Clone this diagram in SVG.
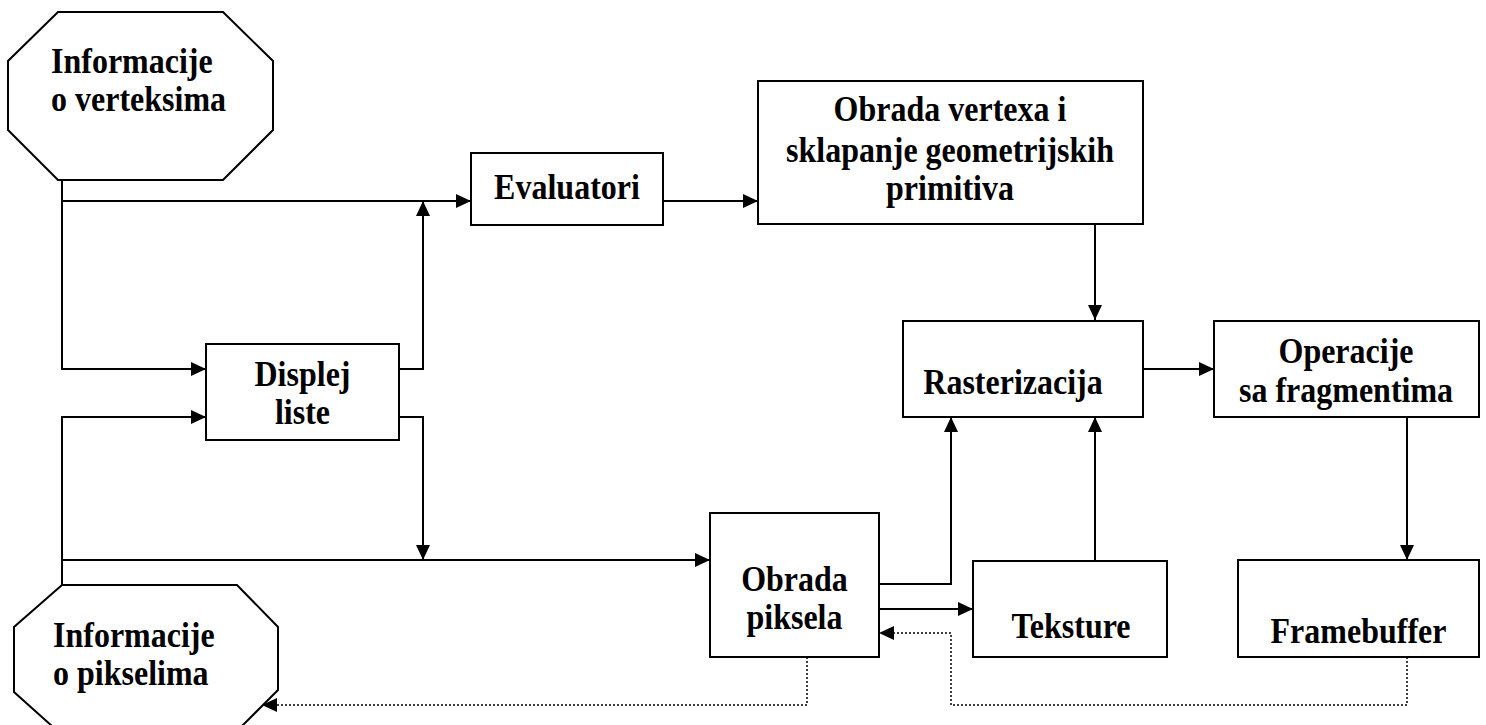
<svg xmlns="http://www.w3.org/2000/svg" width="1486" height="725" viewBox="0 0 1486 725">
<style>
.n{fill:#fff;stroke:#000;stroke-width:2}
.t{font-family:"Liberation Serif","Times New Roman",serif;font-weight:bold;font-size:32px;fill:#000}
.c{text-anchor:middle}
.l{fill:none;stroke:#000;stroke-width:2}
.d{fill:none;stroke:#000;stroke-width:1.5;stroke-dasharray:2 2}
</style>
<defs>
<marker id="a" markerUnits="userSpaceOnUse" markerWidth="16" markerHeight="14" refX="15" refY="7" orient="auto">
<path d="M0,0 L15,7 L0,14 z" fill="#000"/>
</marker>
</defs>
<rect width="1486" height="725" fill="#fff"/>
<g id="connectors">
<path class="l" d="M62,177 V369 H206" marker-end="url(#a)"/>
<path class="l" d="M62,201 H471" marker-end="url(#a)"/>
<path class="l" d="M62,585 V417 H206" marker-end="url(#a)"/>
<path class="l" d="M62,560 H710" marker-end="url(#a)"/>
<path class="l" d="M399,369 H423 V201" marker-end="url(#a)"/>
<path class="l" d="M399,417 H423 V560" marker-end="url(#a)"/>
<path class="l" d="M663,201 H758" marker-end="url(#a)"/>
<path class="l" d="M1095,224 V320" marker-end="url(#a)"/>
<path class="l" d="M1143,369 H1214" marker-end="url(#a)"/>
<path class="l" d="M1407,417 V560" marker-end="url(#a)"/>
<path class="l" d="M879,584 H951 V417" marker-end="url(#a)"/>
<path class="l" d="M879,609 H973" marker-end="url(#a)"/>
<path class="l" d="M1095,561 V417" marker-end="url(#a)"/>
<path class="d" d="M1407,657 V705 H951 V633 H879" marker-end="url(#a)"/>
<path class="d" d="M807,657 V705 H262" marker-end="url(#a)"/>
</g>
<g id="info-verteksi">
<polygon class="n" points="58,12 223,12 273,61 273,130 223,180 58,180 8,130 8,61"/>
<text class="t" transform="translate(51,73) scale(1,1.12)">Informacije</text>
<text class="t" transform="translate(51,111) scale(1,1.12)">o verteksima</text>
</g>
<g id="info-pikseli">
<polygon class="n" points="62,585 237,585 278,627 278,690 233,735 62,735 14,692 14,627"/>
<text class="t" transform="translate(53,647) scale(1,1.12)">Informacije</text>
<text class="t" transform="translate(53,685) scale(1,1.12)">o pikselima</text>
</g>
<g id="evaluatori">
<rect class="n" x="471" y="153" width="192" height="72"/>
<text class="t c" transform="translate(567,199) scale(1,1.12)">Evaluatori</text>
</g>
<g id="obrada-vertexa">
<rect class="n" x="758" y="81" width="385" height="143"/>
<text class="t c" transform="translate(950,121) scale(1,1.12)">Obrada vertexa i</text>
<text class="t c" transform="translate(950,162) scale(1,1.12)">sklapanje geometrijskih</text>
<text class="t c" transform="translate(950,200) scale(1,1.12)">primitiva</text>
</g>
<g id="displej-liste">
<rect class="n" x="206" y="344" width="193" height="96"/>
<text class="t c" transform="translate(302.5,386) scale(1,1.12)">Displej</text>
<text class="t c" transform="translate(302.5,424) scale(1,1.12)">liste</text>
</g>
<g id="rasterizacija">
<rect class="n" x="903" y="321" width="240" height="96"/>
<text class="t c" transform="translate(1013,394) scale(1,1.12)">Rasterizacija</text>
</g>
<g id="operacije">
<rect class="n" x="1214" y="321" width="265" height="96"/>
<text class="t c" transform="translate(1346,363) scale(1,1.12)">Operacije</text>
<text class="t c" transform="translate(1346,402) scale(1,1.12)">sa fragmentima</text>
</g>
<g id="obrada-piksela">
<rect class="n" x="710" y="513" width="169" height="144"/>
<text class="t c" transform="translate(794.5,591) scale(1,1.12)">Obrada</text>
<text class="t c" transform="translate(794.5,629) scale(1,1.12)">piksela</text>
</g>
<g id="teksture">
<rect class="n" x="973" y="561" width="194" height="96"/>
<text class="t c" transform="translate(1071,638) scale(1,1.12)">Teksture</text>
</g>
<g id="framebuffer">
<rect class="n" x="1238" y="560" width="241" height="97"/>
<text class="t c" transform="translate(1358.5,643) scale(1,1.12)">Framebuffer</text>
</g>
</svg>
